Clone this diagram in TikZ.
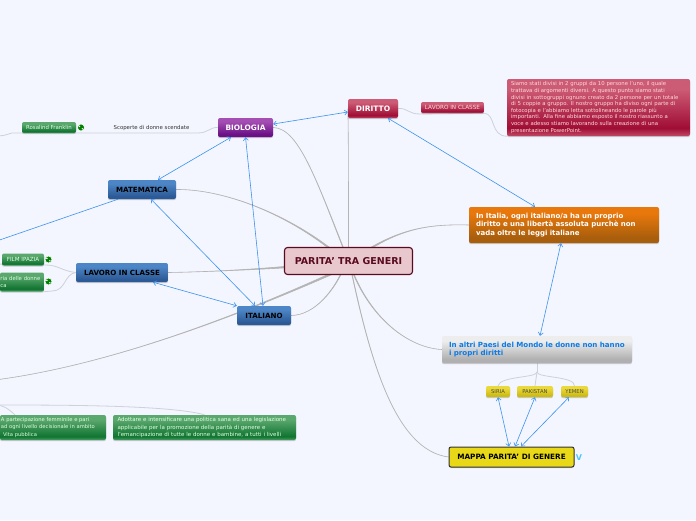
\documentclass[tikz,border=0pt]{standalone}
\usepackage{fontspec}
\setmainfont{DejaVu Sans}
\usetikzlibrary{arrows.meta,shadows,calc}
\pgfdeclarelayer{bglayer}\pgfdeclarelayer{lines}\pgfsetlayers{bglayer,lines,main}
\definecolor{page}{HTML}{F3F6FE}
\definecolor{blink}{HTML}{3C92F0}
\definecolor{branchc}{HTML}{B4B4B4}
\definecolor{thinc}{HTML}{CDD1D8}
\definecolor{grytext}{HTML}{0C7BE6}
\newcommand{\mkshade}[4]{\pgfdeclareverticalshading{#1}{100bp}{color(0bp)=(#4); color(25bp)=(#4); color(32bp)=(#3); color(66bp)=(#2); color(75bp)=(#2); color(100bp)=(#2)}}
\definecolor{gT}{HTML}{5BA86F}\definecolor{gB}{HTML}{0F7430}\definecolor{gS}{HTML}{4E9F66}
\definecolor{bT}{HTML}{4D86C6}\definecolor{bB}{HTML}{2C5A97}
\definecolor{pT}{HTML}{A44EB4}\definecolor{pB}{HTML}{6B1186}
\definecolor{rT}{HTML}{CC5B75}\definecolor{rB}{HTML}{A00D35}\definecolor{rS}{HTML}{C04A66}
\definecolor{oT}{HTML}{E8780C}\definecolor{oB}{HTML}{A85E0C}
\definecolor{sT}{HTML}{EDEDED}\definecolor{sB}{HTML}{B0B0B0}
\definecolor{yT}{HTML}{EAD93A}\definecolor{yB}{HTML}{CDBB14}
\definecolor{cF}{HTML}{E8C8CC}\definecolor{cD}{HTML}{5A0A20}\definecolor{mF}{HTML}{E8D818}
\mkshade{gshade}{gT}{gB}{gS}
\mkshade{bshade}{bT}{bB}{bB}
\mkshade{pshade}{pT}{pB}{pB}
\mkshade{rshade}{rT}{rB}{rS}
\mkshade{oshade}{oT}{oB}{oB}
\mkshade{sshade}{sT}{sB}{sB}
\mkshade{yshade}{yT}{yB}{yB}
\newcommand{\branchline}[4]{\filldraw[branchc,line width=.6pt] (#1) .. controls (#2) and (#3) .. ([yshift=1pt]#4) -- ([yshift=-1pt]#4) .. controls (#3) and (#2) .. (#1) -- cycle;}
\tikzset{
  box/.style={rectangle,rounded corners=2pt,inner sep=0pt,align=center,drop shadow={shadow xshift=0pt,shadow yshift=-1.2pt,opacity=.3,fill=black!60}},
  gbox/.style={box,shading=gshade,text=white!88!green,font=\fontsize{5.6}{7.2}\selectfont},
  bbox/.style={box,shading=bshade,text=black,font=\bfseries\fontsize{7.1}{8}\selectfont},
  rsmall/.style={box,shading=rshade,text=white!85!red,font=\fontsize{5.7}{7}\selectfont},
  ybox/.style={box,shading=yshade,text=black!80!yellow,font=\fontsize{5.3}{7}\selectfont},
  blinkline/.style={blink,line width=.6pt,{Straight Barb[length=3pt,width=5pt]}-{Straight Barb[length=3pt,width=5pt]}},
  thinline/.style={thinc,line width=.8pt},
  globe/.style={circle,fill=green!50!black,draw=white,line width=.6pt,minimum size=7pt,inner sep=0pt},
}
\begin{document}
\begin{tikzpicture}[x=1pt,y=-1pt]
\begin{pgfonlayer}{bglayer}
\fill[page] (0,0) rectangle (696,520);
\end{pgfonlayer}
\useasboundingbox (0,0) rectangle (696,520);
% nodes
\node[rectangle,rounded corners=3pt,draw=cD,line width=1.1pt,fill=cF,minimum width=128pt,minimum height=27pt,text=cD,font=\bfseries\fontsize{9.5}{11}\selectfont] (c) at (348.5,261) {PARITA' TRA GENERI};
\node[box,shading=pshade,text=white,font=\bfseries\fontsize{7.4}{8}\selectfont,minimum width=55pt,minimum height=19pt] (bio) at (245.5,127.5) {BIOLOGIA};
\node[box,shading=rshade,text=white,font=\bfseries\fontsize{7.5}{8}\selectfont,minimum width=50pt,minimum height=19pt] (dir) at (373,108.5) {DIRITTO};
\node[bbox,minimum width=68pt,minimum height=19pt] (mat) at (142,189.5) {MATEMATICA};
\node[bbox,minimum width=92pt,minimum height=19pt] (lav) at (122,272.5) {LAVORO IN CLASSE};
\node[bbox,minimum width=54pt,minimum height=19pt] (ita) at (264,315.5) {ITALIANO};
\node[gbox,minimum width=54pt,minimum height=11pt,font=\fontsize{5.4}{7}\selectfont] (ros) at (49,127.5) {Rosalind Franklin};
\node[gbox,minimum width=42pt,minimum height=12pt] (film) at (23,259.5) {FILM IPAZIA};
\node[gbox,minimum width=44pt,minimum height=19pt,align=left,text width=43pt,font=\fontsize{5.3}{7.2}\selectfont] (sto) at (22,282) {\mbox{ria delle donne}\\ca};
\node[gbox,minimum width=106pt,minimum height=25pt,align=left,text width=104pt,font=\fontsize{5.2}{7.2}\selectfont] (par) at (53,427.5) {A partecipazione femminile e pari\\ad ogni livello decisionale in ambito\\\hspace*{2pt}Vita pubblica};
\node[gbox,minimum width=183pt,minimum height=25pt,align=left,text width=174pt,font=\fontsize{5.5}{7.2}\selectfont] (ado) at (204.5,427.5) {Adottare e intensificare una politica sana ed una legislazione\\applicabile per la promozione della parità di genere e\\l'emancipazione di tutte le donne e bambine, a tutti i livelli};
\node[rsmall,minimum width=63pt,minimum height=11pt] (lc2) at (452.5,107.5) {LAVORO IN CLASSE};
\node[rsmall,minimum width=183pt,minimum height=57pt,align=left,text width=175pt,font=\fontsize{5.35}{6.6}\selectfont] (red) at (598.5,107.5) {Siamo stati divisi in 2 gruppi da 10 persone l'uno, il quale\\trattava di argomenti diversi. A questo punto siamo stati\\divisi in sottogruppi ognuno creato da 2 persone per un totale\\di 5 coppie a gruppo. Il nostro gruppo ha diviso ogni parte di\\fotocopia e l'abbiamo letta sottolineando le parole più\\importanti. Alla fine abbiamo esposto il nostro riassunto a\\voce e adesso stiamo lavorando sulla creazione di una\\presentazione PowerPoint.};
\node[box,shading=oshade,text=white,font=\bfseries\fontsize{7}{8.7}\selectfont,minimum width=190pt,minimum height=36pt,align=left,text width=176pt] (ora) at (564,225) {In Italia, ogni italiano/a ha un proprio\\diritto e una libertà assoluta purchè non\\vada oltre le leggi italiane};
\node[box,shading=sshade,text=grytext,font=\bfseries\fontsize{7.1}{8.5}\selectfont,minimum width=190pt,minimum height=27pt,align=left,text width=176pt] (gry) at (537,349.5) {In altri Paesi del Mondo le donne non hanno\\i propri diritti};
\node[ybox,minimum width=24pt,minimum height=11pt] (sir) at (498,391.5) {SIRIA};
\node[ybox,minimum width=36pt,minimum height=11pt] (pak) at (535,391.5) {PAKISTAN};
\node[ybox,minimum width=27pt,minimum height=11pt] (yem) at (574.5,391.5) {YEMEN};
\node[rectangle,rounded corners=2pt,draw=black!80,line width=1pt,fill=mF,minimum width=125pt,minimum height=20pt,text=black,font=\bfseries\fontsize{7.3}{8}\selectfont,drop shadow={shadow xshift=0pt,shadow yshift=-1pt,opacity=.3,fill=black!60}] (map) at (511.5,457) {MAPPA PARITA' DI GENERE};
\node[text=cyan!70!white,font=\bfseries\fontsize{8}{9}\selectfont,inner sep=0pt] (v) at (579,458) {V};
\node[font=\fontsize{5.4}{7}\selectfont,text=black!80,inner sep=0pt] (sco) at (151.5,128) {Scoperte di donne scendate};
\node[globe] (g1) at (81,127.5) {};
\node[globe] (g2) at (48.5,259.5) {};
\node[globe] (g3) at (48.5,281.5) {};
\foreach \g in {g1,g2,g3}{\fill[white] ([shift={(-1.6pt,1.2pt)}]\g.center) circle (.9pt); \fill[white] ([shift={(1.4pt,-1.2pt)}]\g.center) circle (.8pt);}
\coordinate (offm) at (-12,244);
\coordinate (l1) at (-5,136);
\coordinate (l2) at (-5,264);
\coordinate (l3) at (-5,405);
\coordinate (offb) at (-5,380);
\coordinate (fork) at (537,372);
\begin{pgfonlayer}{lines}
\branchline{bio.east}{300,128}{318,185}{352,270}
\branchline{dir.west}{348.5,130}{348.5,200}{348.5,255}
\branchline{mat.east}{225,189}{290,215}{338,255}
\branchline{lav.east}{200,272}{250,270}{300,266}
\branchline{ita.east}{315,315}{335,290}{345,265}
\branchline{offb}{110,365}{240,315}{340,270}
\branchline{ora.west}{430,224}{400,228}{360,255}
\branchline{gry.west}{410,348}{370,320}{350,265}
\branchline{map.west}{395,450}{370,360}{350,265}
\draw[thinline] (bio.west) .. controls (210,127) and (208,133) .. (198,133) -- (12,133) .. controls (8,133) and (8,136) .. (l1);
\draw[thinline] (lav.west) .. controls (62,271) and (58,265) .. (46,265) -- (l2);
\draw[thinline] (lav.west) .. controls (64,274) and (66,291) .. (52,291) -- (sto.south east);
\draw[thinline] (dir.east) .. controls (408,108) and (408,114) .. (420,114) -- (lc2.south east);
\draw[thinline] (lc2.south east) .. controls (496,114) and (490,136) .. (red.south west);
\draw[thinline] (l3) .. controls (60,405) and (170,405) .. (ado.north);
\draw[thinline] (l3) .. controls (4,405) and (10,410) .. (15,415);
\draw[thinline] (gry.south) -- (fork);
\draw[thinline] (fork) .. controls (537,378) and (500,376) .. (sir.north);
\draw[thinline] (fork) -- (pak.north);
\draw[thinline] (fork) .. controls (537,378) and (575,376) .. (yem.north);
\end{pgfonlayer}
% associations
\draw[blinkline] ([yshift=3.5pt]bio.east) -- ([yshift=-3.5pt]dir.west);
\draw[blinkline] ([xshift=-14.5pt]bio.south) -- ([xshift=16pt]mat.north);
\draw[blinkline] (bio.south) -- ([xshift=-1pt]ita.north);
\draw[blinkline] ([xshift=9pt]mat.south) -- ([xshift=-9pt]ita.north);
\draw[blinkline] ([xshift=31pt]lav.south) -- (ita.north west);
\draw[blink,line width=.6pt] ([xshift=-24pt]mat.south) -- (offm);
\draw[blinkline] ([xshift=15pt]dir.south) -- ([xshift=-29pt]ora.north);
\draw[blinkline] ([xshift=-3pt]ora.south) -- ([xshift=3pt]gry.north);
\draw[blinkline] (sir.south) -- ([xshift=-2.5pt]map.north);
\draw[blinkline] (pak.south) -- ([xshift=3.5pt]map.north);
\draw[blinkline] ([xshift=-5.5pt]yem.south) -- ([xshift=9.5pt]map.north);
\end{tikzpicture}
\end{document}
